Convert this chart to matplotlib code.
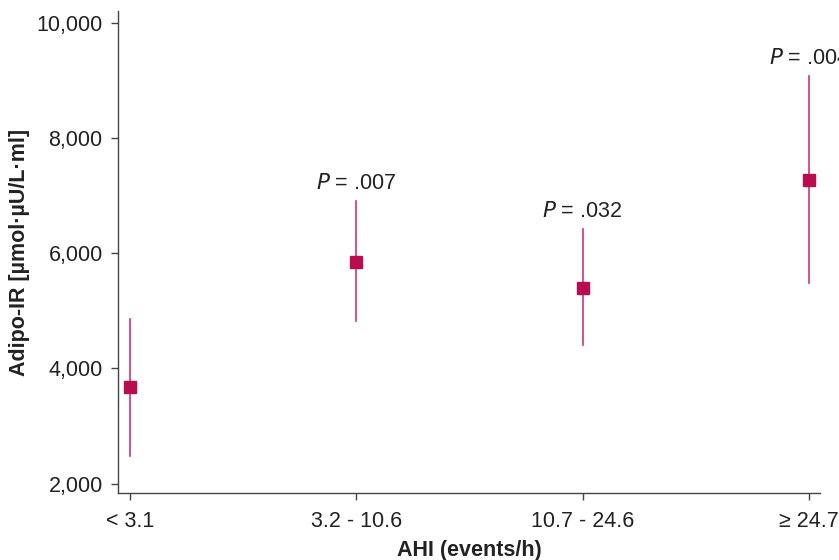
import matplotlib
matplotlib.use("Agg")
import matplotlib.pyplot as plt

categories = ["< 3.1", "3.2 - 10.6", "10.7 - 24.6", "\u2265 24.7"]
means = [3670, 5850, 5400, 7275]
upper = [4860, 6910, 6425, 9080]
lower = [2485, 4830, 4410, 5490]
p_labels = [None, ".007", ".032", ".004"]
yticks = [2000, 4000, 6000, 8000, 10000]

plt.rcParams['font.family'] = ['Liberation Sans', 'DejaVu Sans']

fig = plt.figure(figsize=(8.39, 5.6), dpi=100)
ax = fig.add_axes([118/839, 1-493/560, (820-118)/839, (493-11)/560])

x = list(range(len(categories)))
line_col = '#d2346f'
mark_col = '#b80d4f'
for xi, m, u, l in zip(x, means, upper, lower):
    ax.plot([xi, xi], [l, u], color=line_col, lw=1.2, zorder=2)
    ax.plot([xi], [m], marker='s', ms=9, color=mark_col, mec=mark_col, zorder=3, ls='none')

for xi, u, p in zip(x, upper, p_labels):
    if p is None:
        continue
    ax.annotate(r"$\it{P}$" + " = " + p, xy=(xi, u), xytext=(0, 5), textcoords='offset points',
                ha='center', va='bottom', fontsize=15.5, color='#222222', annotation_clip=False)

ax.set_xlim(-0.053, 3.049)
ax.set_ylim(1840, 10200)
ax.set_xticks(x)
ax.set_xticklabels(categories)
ax.set_yticks(yticks)
ax.set_yticklabels([f"{v:,}" for v in yticks])
for s in ['top', 'right']:
    ax.spines[s].set_visible(False)
for s in ['left', 'bottom']:
    ax.spines[s].set_color('#444444')
    ax.spines[s].set_linewidth(1.0)
ax.tick_params(axis='both', direction='out', length=5, width=1.0, color='#444444',
               labelsize=15.5, labelcolor='#222222')
ax.tick_params(axis='x', pad=8)
ax.tick_params(axis='y', pad=6)
ax.set_xlabel("AHI (events/h)", fontsize=15.5, fontweight='bold', color='#222222', labelpad=6)
ax.set_ylabel("Adipo-IR [\u00b5mol\u00b7\u00b5U/L\u00b7ml]", fontsize=15.5, fontweight='bold',
              color='#222222')
ax.yaxis.set_label_coords(-(118-30)/702, 0.5)

fig.savefig("out.png", dpi=100)
